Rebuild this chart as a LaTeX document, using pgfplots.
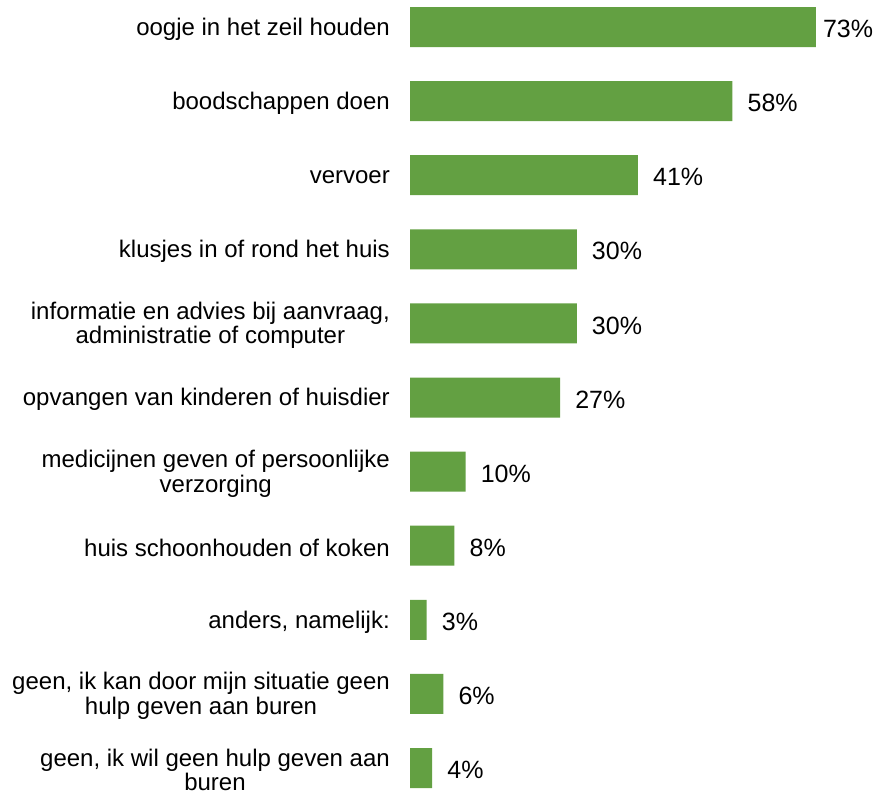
\documentclass[border=0pt]{standalone}
\usepackage{pgfplots}
\pgfplotsset{compat=1.18}
\usepackage{fontspec}
\setmainfont{Liberation Sans}
\definecolor{bargreen}{RGB}{99,160,66}
\begin{document}
\fontsize{24bp}{24bp}\selectfont
\begin{tikzpicture}
\path[use as bounding box] (0,0) rectangle (877bp,-791bp);
\begin{axis}[
 at={(410bp,-7bp)}, anchor=north west,
 scale only axis, width=467bp, height=781bp,
 xmin=0, xmax=84, ymin=-0.27, ymax=10.27, y dir=reverse,
 xbar, bar width=0.54,
 axis line style={draw=none}, xtick=\empty, ytick={0,...,10},
 major tick length=0pt,
 yticklabels={
  oogje in het zeil houden,
  boodschappen doen,
  vervoer,
  klusjes in of rond het huis,
  {informatie en advies bij aanvraag,\\administratie of computer},
  opvangen van kinderen of huisdier,
  {medicijnen geven of persoonlijke\\verzorging},
  huis schoonhouden of koken,
  {anders, namelijk:},
  {geen, ik kan door mijn situatie geen\\hulp geven aan buren},
  {geen, ik wil geen hulp geven aan\\buren}
 },
 yticklabel style={align=center, inner sep=0pt, xshift=-20bp, yshift=-2bp, font=\fontsize{24bp}{24.5bp}\selectfont},
 nodes near coords={\pgfmathprintnumber[assume math mode=true]{\pgfplotspointmeta}\%},
 nodes near coords style={anchor=west, inner sep=0pt, xshift=15bp, yshift=-2bp, font=\fontsize{25bp}{27bp}\selectfont},
 coordinate style/.condition={\coordindex==0}{xshift=-8bp},
 clip=false,
]
\addplot[fill=bargreen, draw=none] coordinates {
 (73,0) (58,1) (41,2) (30,3) (30,4) (27,5) (10,6) (8,7) (3,8) (6,9) (4,10)
};
\end{axis}
\end{tikzpicture}
\end{document}
